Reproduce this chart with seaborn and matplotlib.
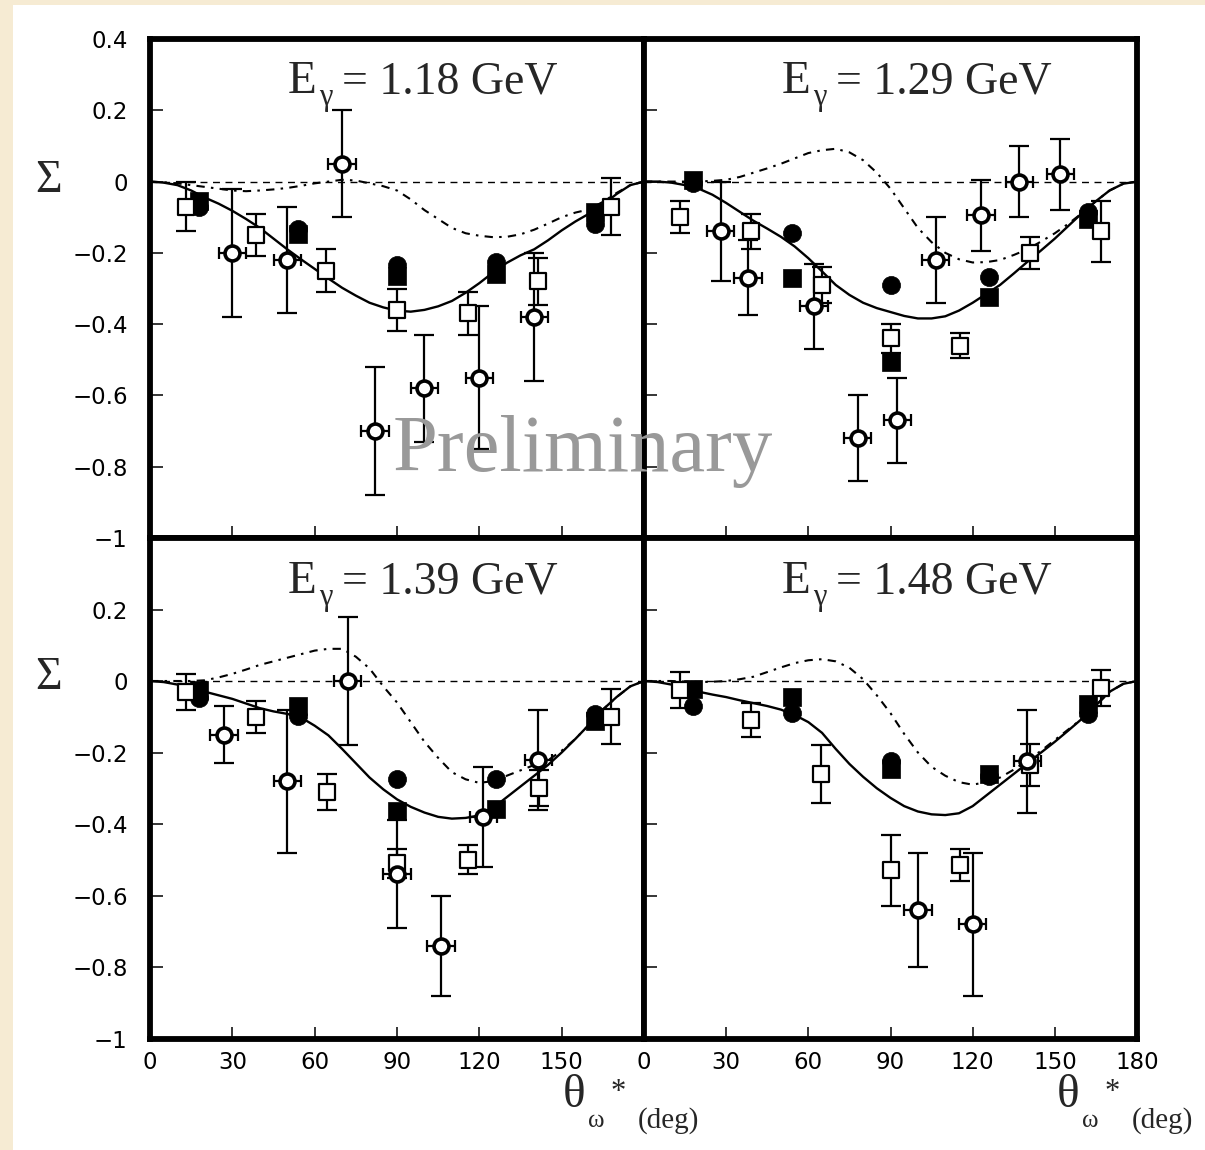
import numpy as np
import pandas as pd
import matplotlib
matplotlib.use("Agg")
import matplotlib.pyplot as plt
from matplotlib.patches import Rectangle
import seaborn as sns

# ---------------- data ----------------
energies = ["1.18", "1.29", "1.39", "1.48"]

curve_theta = [0, 5, 10, 15, 20, 25, 30, 35, 40, 45, 50, 55, 60, 65, 70, 75, 80, 85, 90,
               95, 100, 105, 110, 115, 120, 125, 130, 135, 140, 145, 150, 155, 160, 165, 170, 175, 180]

solid1 = [0, -0.003, -0.01, -0.025, -0.045, -0.062, -0.082, -0.105, -0.13, -0.16, -0.19, -0.218,
          -0.245, -0.272, -0.298, -0.32, -0.34, -0.353, -0.362, -0.365, -0.36, -0.35, -0.335,
          -0.312, -0.285, -0.255, -0.228, -0.207, -0.19, -0.165, -0.137, -0.112, -0.09, -0.065,
          -0.035, -0.01, 0]
dd1 = [0, -0.002, -0.005, -0.01, -0.015, -0.02, -0.025, -0.027, -0.025, -0.022, -0.018, -0.012,
       -0.005, 0.0, 0.005, 0.003, -0.005, -0.013, -0.025, -0.05, -0.08, -0.105, -0.13, -0.145,
       -0.152, -0.156, -0.155, -0.148, -0.135, -0.118, -0.10, -0.087, -0.078, -0.057, -0.032,
       -0.01, 0]
solid2 = [0, 0, -0.003, -0.01, -0.02, -0.037, -0.06, -0.085, -0.11, -0.132, -0.155, -0.182,
          -0.215, -0.252, -0.29, -0.318, -0.34, -0.355, -0.366, -0.377, -0.384, -0.384, -0.378,
          -0.362, -0.34, -0.315, -0.29, -0.258, -0.225, -0.193, -0.16, -0.124, -0.088, -0.055,
          -0.025, -0.006, 0]
dd2 = [0, 0, 0, 0, 0, 0.002, 0.005, 0.013, 0.025, 0.037, 0.05, 0.065, 0.08, 0.088, 0.092, 0.082,
       0.06, 0.025, -0.02, -0.075, -0.13, -0.17, -0.20, -0.218, -0.227, -0.226, -0.22, -0.206,
       -0.19, -0.168, -0.145, -0.118, -0.088, -0.055, -0.025, -0.006, 0]
solid3 = [0, -0.003, -0.01, -0.02, -0.03, -0.04, -0.05, -0.063, -0.076, -0.085, -0.092, -0.102,
          -0.125, -0.152, -0.19, -0.23, -0.27, -0.303, -0.331, -0.352, -0.368, -0.38, -0.385,
          -0.383, -0.376, -0.355, -0.325, -0.295, -0.265, -0.235, -0.2, -0.162, -0.122, -0.08,
          -0.045, -0.015, 0]
dd3 = [0, 0, 0, 0, 0.002, 0.01, 0.02, 0.032, 0.045, 0.055, 0.065, 0.075, 0.085, 0.09, 0.09, 0.068,
       0.035, -0.015, -0.06, -0.115, -0.17, -0.215, -0.255, -0.275, -0.285, -0.28, -0.265, -0.25,
       -0.235, -0.222, -0.195, -0.162, -0.122, -0.08, -0.045, -0.015, 0]
solid4 = [0, -0.003, -0.01, -0.02, -0.03, -0.038, -0.045, -0.054, -0.062, -0.07, -0.08, -0.095,
          -0.115, -0.145, -0.19, -0.232, -0.268, -0.30, -0.327, -0.35, -0.365, -0.373, -0.375,
          -0.37, -0.35, -0.32, -0.29, -0.26, -0.23, -0.20, -0.17, -0.138, -0.105, -0.068, -0.03,
          -0.008, 0]
dd4 = [0, 0, 0, -0.002, -0.003, -0.002, 0.0, 0.005, 0.012, 0.025, 0.038, 0.05, 0.058, 0.061,
       0.055, 0.037, 0.005, -0.04, -0.09, -0.148, -0.20, -0.24, -0.265, -0.283, -0.29, -0.283,
       -0.27, -0.248, -0.222, -0.195, -0.165, -0.135, -0.105, -0.068, -0.03, -0.008, 0]

# open circles (with horizontal errors)
oc1_theta = [30, 50, 70, 82, 100, 120, 140]
oc1_sigma = [-0.20, -0.22, 0.05, -0.70, -0.58, -0.55, -0.38]
oc1_err = [0.18, 0.15, 0.15, 0.18, 0.15, 0.20, 0.18]
oc2_theta = [28, 38, 62, 78, 92.5, 106.5, 123, 137, 152]
oc2_sigma = [-0.14, -0.27, -0.35, -0.72, -0.67, -0.22, -0.095, 0.0, 0.02]
oc2_err = [0.14, 0.105, 0.12, 0.12, 0.12, 0.12, 0.10, 0.10, 0.10]
oc3_theta = [27, 50, 72, 90, 106, 121.5, 141.5]
oc3_sigma = [-0.15, -0.28, 0.0, -0.54, -0.74, -0.38, -0.22]
oc3_err = [0.08, 0.20, 0.18, 0.15, 0.14, 0.14, 0.14]
oc4_theta = [100, 120, 140]
oc4_sigma = [-0.64, -0.68, -0.225]
oc4_err = [0.16, 0.20, 0.143]
oc_xerr = 5

# open squares
os1_theta = [13, 38.5, 64, 90, 116, 141.5, 168]
os1_sigma = [-0.07, -0.15, -0.25, -0.36, -0.37, -0.28, -0.07]
os1_err = [0.07, 0.06, 0.06, 0.06, 0.06, 0.065, 0.08]
os2_theta = [13, 39, 65, 90, 115.5, 141, 167]
os2_sigma = [-0.10, -0.14, -0.29, -0.44, -0.46, -0.20, -0.14]
os2_err = [0.045, 0.05, 0.05, 0.04, 0.035, 0.045, 0.085]
os3_theta = [13, 38.7, 64.5, 90, 116, 141.7, 168]
os3_sigma = [-0.03, -0.10, -0.31, -0.51, -0.50, -0.30, -0.10]
os3_err = [0.05, 0.045, 0.05, 0.04, 0.04, 0.05, 0.077]
os4_theta = [13, 39, 64.5, 90, 115.5, 141, 167]
os4_sigma = [-0.025, -0.11, -0.26, -0.53, -0.515, -0.235, -0.02]
os4_err = [0.05, 0.048, 0.08, 0.10, 0.045, 0.06, 0.05]

# filled squares / filled circles
f_theta = [18, 54, 90, 126, 162]
fs1_sigma = [-0.055, -0.148, -0.265, -0.26, -0.085]
fc1_sigma = [-0.07, -0.133, -0.235, -0.226, -0.118]
fs2_sigma = [0.005, -0.27, -0.505, -0.325, -0.105]
fc2_sigma = [-0.005, -0.145, -0.29, -0.268, -0.085]
fs3_sigma = [-0.026, -0.07, -0.364, -0.359, -0.112]
fc3_sigma = [-0.047, -0.098, -0.273, -0.275, -0.093]
fs4_sigma = [-0.023, -0.045, -0.245, -0.26, -0.065]
fc4_sigma = [-0.07, -0.089, -0.225, -0.265, -0.093]

xticks = [0, 30, 60, 90, 120, 150, 180]
xlabels_left = ["0", "30", "60", "90", "120", "150", ""]
xlabels_right = ["0", "30", "60", "90", "120", "150", "180"]
yticks = [0.4, 0.2, 0, -0.2, -0.4, -0.6, -0.8, -1]
ylabels_top = ["0.4", "0.2", "0", "\u22120.2", "\u22120.4", "\u22120.6", "\u22120.8", "\u22121"]
ylabels_bottom = ["", "0.2", "0", "\u22120.2", "\u22120.4", "\u22120.6", "\u22120.8", "\u22121"]

panels = [
    dict(e=energies[0], solid=solid1, dd=dd1, oct=oc1_theta, ocs=oc1_sigma, oce=oc1_err,
         ost=os1_theta, oss=os1_sigma, ose=os1_err, fs=fs1_sigma, fc=fc1_sigma),
    dict(e=energies[1], solid=solid2, dd=dd2, oct=oc2_theta, ocs=oc2_sigma, oce=oc2_err,
         ost=os2_theta, oss=os2_sigma, ose=os2_err, fs=fs2_sigma, fc=fc2_sigma),
    dict(e=energies[2], solid=solid3, dd=dd3, oct=oc3_theta, ocs=oc3_sigma, oce=oc3_err,
         ost=os3_theta, oss=os3_sigma, ose=os3_err, fs=fs3_sigma, fc=fc3_sigma),
    dict(e=energies[3], solid=solid4, dd=dd4, oct=oc4_theta, ocs=oc4_sigma, oce=oc4_err,
         ost=os4_theta, oss=os4_sigma, ose=os4_err, fs=fs4_sigma, fc=fc4_sigma),
]

# ---------------- style ----------------
sns.set_theme(style="ticks")
plt.rcParams["font.family"] = ["Liberation Serif", "DejaVu Serif"]
plt.rcParams["axes.linewidth"] = 4.2
plt.rcParams["axes.edgecolor"] = "black"

W, H = 1205, 1150
fig = plt.figure(figsize=(W / 100, H / 100), dpi=100)
fig.patch.set_facecolor("white")
fig.patches.append(Rectangle((0, 0), 13 / W, 1, transform=fig.transFigure,
                             facecolor="#f6ebd3", edgecolor="none", zorder=-5))
fig.patches.append(Rectangle((0, 1 - 5 / H), 1, 5 / H, transform=fig.transFigure,
                             facecolor="#f6ebd3", edgecolor="none", zorder=-5))

def fx(px):
    return px / W

def fy(py):
    return 1 - py / H

xl = [150, 644]
xw = [494, 493]
yt = [39, 538]
yh = [499, 500.5]

tick_font = dict(family=["DejaVu Sans"], size=16.5)

for i, p in enumerate(panels):
    r, c = divmod(i, 2)
    ax = fig.add_axes([fx(xl[c]), fy(yt[r] + yh[r]), xw[c] / W, yh[r] / H])
    ax.set_facecolor("white")

    # zero line and model curves
    ax.axhline(0, color="black", lw=1.0, ls=(0, (5, 4)), zorder=1)
    sns.lineplot(x=curve_theta, y=p["solid"], ax=ax, color="black", lw=1.7, zorder=2)
    sns.lineplot(x=curve_theta, y=p["dd"], ax=ax, color="black", lw=1.5,
                 linestyle=(0, (4, 3, 1.2, 3)), zorder=2)

    # error bars
    ax.errorbar(p["ost"], p["oss"], yerr=p["ose"], fmt="none", ecolor="black",
                elinewidth=1.6, capsize=7, capthick=1.6, zorder=3)
    ax.errorbar(p["oct"], p["ocs"], yerr=p["oce"], fmt="none", ecolor="black",
                elinewidth=1.6, capsize=7, capthick=1.6, zorder=3)
    ax.errorbar(p["oct"], p["ocs"], xerr=oc_xerr, fmt="none", ecolor="black",
                elinewidth=1.6, capsize=4.5, capthick=1.6, zorder=3)

    # markers
    sns.scatterplot(x=f_theta, y=p["fs"], ax=ax, marker="s", s=150, color="black",
                    edgecolor="black", linewidth=0.5, zorder=4)
    sns.scatterplot(x=f_theta, y=p["fc"], ax=ax, marker="o", s=170, color="black",
                    edgecolor="black", linewidth=0.5, zorder=4)
    sns.scatterplot(x=p["ost"], y=p["oss"], ax=ax, marker="s", s=135, color="white",
                    edgecolor="black", linewidth=1.6, zorder=5)
    sns.scatterplot(x=p["oct"], y=p["ocs"], ax=ax, marker="o", s=115, color="white",
                    edgecolor="black", linewidth=2.6, zorder=6)

    ax.set_xlim(0, 180)
    ax.set_ylim(-1, 0.4)
    ax.set_xticks(xticks)
    ax.set_yticks(yticks)
    ax.tick_params(direction="in", length=9, width=1.1, top=False, right=False,
                   colors="black", pad=9)
    ax.tick_params(axis="y", pad=16)
    if r == 1:
        ax.set_xticklabels(xlabels_left if c == 0 else xlabels_right, fontdict=tick_font)
    else:
        ax.set_xticklabels([])
    if c == 0:
        ax.set_yticklabels(ylabels_top if r == 0 else ylabels_bottom, fontdict=tick_font)
    else:
        ax.set_yticklabels([])
    ax.set_xlabel("")
    ax.set_ylabel("")
    for s in ax.spines.values():
        s.set_visible(True)
        s.set_linewidth(4.2)
        s.set_zorder(10)

    # E_gamma label, built from pieces
    dx = 494 * c
    dy = 500 * r
    fig.text(fx(288 + dx), fy(93 + dy), "E", ha="left", va="baseline", fontsize=34)
    fig.text(fx(319 + dx), fy(105 + dy), "\u03b3", ha="left", va="baseline", fontsize=22)
    fig.text(fx(342 + dx), fy(93 + dy), "= " + p["e"] + " GeV", ha="left", va="baseline",
             fontsize=33)

# Sigma labels
for yy in (181, 678):
    fig.text(fx(49), fy(yy), "\u03a3", ha="center", va="center", fontsize=33,
             family=["Liberation Serif", "DejaVu Serif"])

# theta axis labels
for x0 in (563, 1057):
    fig.text(fx(x0), fy(1107), "\u03b8", ha="left", va="baseline", fontsize=34)
    fig.text(fx(x0 + 25), fy(1127), "\u03c9", ha="left", va="baseline", fontsize=18)
    fig.text(fx(x0 + 48), fy(1100), "*", ha="left", va="baseline", fontsize=22)
    fig.text(fx(x0 + 75), fy(1128), "(deg)", ha="left", va="baseline", fontsize=21)

# watermark
fig.text(fx(393), fy(471), "Preliminary", ha="left", va="baseline", fontsize=58,
         color="#999999", family=["Liberation Serif", "DejaVu Serif"], zorder=20)

fig.savefig("out.png", dpi=100, facecolor=fig.get_facecolor())
